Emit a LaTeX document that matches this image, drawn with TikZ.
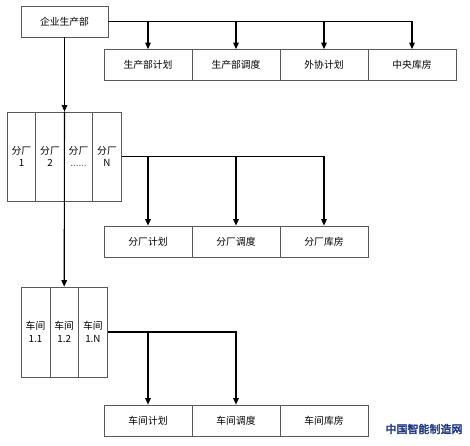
\documentclass[tikz,border=0pt]{standalone}
\usepackage{fontspec}
\setmainfont{Noto Sans CJK SC}
\newfontfamily\wmfont[AutoFakeBold=3]{Noto Sans CJK SC}
\usetikzlibrary{arrows.meta}
\definecolor{wmblue}{HTML}{1C3483}
\tikzset{
  box/.style={draw=black!65, line width=0.7pt, fill=white, rectangle, inner sep=0pt,
    minimum width=88pt, minimum height=31pt, font=\fontsize{9.8}{12}\selectfont},
  cell/.style={draw=black!65, line width=0.7pt, fill=white, rectangle, inner sep=0pt,
    minimum height=89pt, align=center, font=\fontsize{9.8}{12.5}\selectfont},
  link/.style={line width=1.1pt, black},
  arr/.style={link, -{Triangle[length=6.5pt,width=5.5pt]}},
}
\begin{document}
\begin{tikzpicture}[x=1pt,y=-1pt]
\useasboundingbox (0,0) rectangle (470,445);
% top
\node[box, minimum width=87pt] (top) at (64.5,21.5) {企业生产部};
\node[box] (d1) at (148,65) {生产部计划};
\node[box] (d2) at (236,65) {生产部调度};
\node[box] (d3) at (324,65) {外协计划};
\node[box] (d4) at (412,65) {中央库房};
% factories
\node[cell, minimum width=28.5pt] (f1) at (21.5,156.5) {分厂\\1};
\node[cell, minimum width=28.5pt] (f2) at (50,156.5) {分厂\\2};
\node[cell, minimum width=28.5pt] (f3) at (78.5,156.5) {分厂\\{\color{black!60}......}};
\node[cell, minimum width=28.5pt] (f4) at (107,156.5) {分厂\\N};
\node[box] (e1) at (148,241.5) {分厂计划};
\node[box] (e2) at (236,241.5) {分厂调度};
\node[box] (e3) at (324,241.5) {分厂库房};
% workshops
\node[cell, minimum width=28.7pt, minimum height=90pt] (w1) at (35.5,332) {车间\\1.1};
\node[cell, minimum width=28.7pt, minimum height=90pt] (w2) at (64.2,332) {车间\\1.2};
\node[cell, minimum width=28.7pt, minimum height=90pt] (w3) at (92.9,332) {车间\\1.N};
\node[box] (g1) at (148,420.5) {车间计划};
\node[box] (g2) at (236,420.5) {车间调度};
\node[box] (g3) at (324,420.5) {车间库房};
% connectors
\draw[arr] (top.south) -- (top.south |- f2.north);
\draw[arr] (top.south |- f2.north) -- (w2.north);
\draw[arr] (top.east) -| (d4.north);
\draw[arr] (top.east -| d1.north) -- (d1.north);
\draw[arr] (top.east -| d2.north) -- (d2.north);
\draw[arr] (top.east -| d3.north) -- (d3.north);
\draw[arr] (f4.east) -| (e3.north);
\draw[arr] (f4.east -| e1.north) -- (e1.north);
\draw[arr] (f4.east -| e2.north) -- (e2.north);
\draw[arr] (w3.east) -| (g2.north);
\draw[arr] (w3.east -| g1.north) -- (g1.north);
% watermark
\node[text=wmblue, font=\wmfont\bfseries\fontsize{11}{12}\selectfont, inner sep=0pt] (wm) at (424,429) {中国智能制造网};
\end{tikzpicture}
\end{document}
